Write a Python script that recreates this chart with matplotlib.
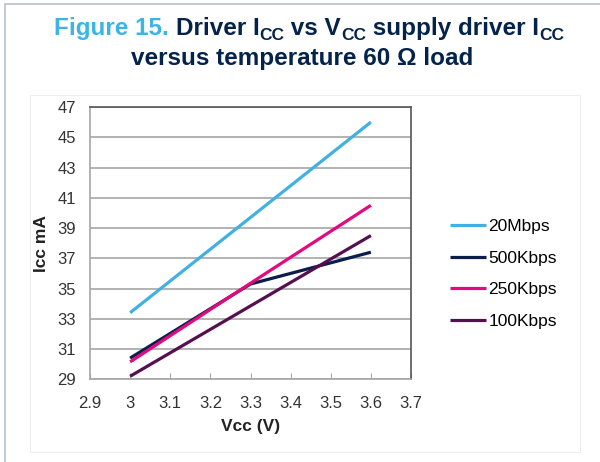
import matplotlib
matplotlib.use("Agg")
import matplotlib.pyplot as plt
from matplotlib.patches import Rectangle

plt.rcParams['font.family'] = ['Liberation Sans', 'DejaVu Sans']

# Data
vcc = [3.0, 3.3, 3.6]
icc_20mbps = [33.4, 39.7, 46.0]
icc_500kbps = [30.4, 35.3, 37.4]
icc_250kbps = [30.15, 35.35, 40.5]
icc_100kbps = [29.2, 33.85, 38.5]

series_names = ['20Mbps', '500Kbps', '250Kbps', '100Kbps']
series_vals = [icc_20mbps, icc_500kbps, icc_250kbps, icc_100kbps]
series_colors = ['#41B1E3', '#0B1D4D', '#E5097F', '#56104F']

x_ticks = [2.9, 3.0, 3.1, 3.2, 3.3, 3.4, 3.5, 3.6, 3.7]
x_tick_labels = ['2.9', '3', '3.1', '3.2', '3.3', '3.4', '3.5', '3.6', '3.7']
y_ticks = list(range(29, 48, 2))

W, H = 600, 462
fig = plt.figure(figsize=(W / 100, H / 100), dpi=100)

# outer frame and inner chart box
fig.patches.append(Rectangle((5 / W, -0.1), 1.2, 1 - 4 / H + 0.1, transform=fig.transFigure,
                             fill=False, edgecolor='#B9C2CB', linewidth=1.2))
fig.patches.append(Rectangle((30 / W, 1 - 452 / H), 550 / W, 357 / H, transform=fig.transFigure,
                             fill=False, edgecolor='#EDEDED', linewidth=0.8))

ax = fig.add_axes([90 / W, 1 - 379.3 / H, 321 / W, 272.3 / H])
for name, vals, col in zip(series_names, series_vals, series_colors):
    ax.plot(vcc, vals, color=col, linewidth=2.3, label=name, solid_capstyle='butt')

ax.set_xlim(2.9, 3.7)
ax.set_ylim(29, 47)
ax.set_xticks(x_ticks)
ax.set_xticklabels(x_tick_labels)
ax.set_yticks(y_ticks)
ax.grid(axis='y', color='#A6A6A6', linewidth=1.2)
ax.set_axisbelow(True)
ax.tick_params(axis='y', length=0, pad=10, labelsize=12, labelcolor='#333333')
ax.tick_params(axis='x', direction='in', length=4, color='#A6A6A6', pad=12,
               labelsize=12, labelcolor='#333333')
for s in ['left', 'bottom']:
    ax.spines[s].set_color('#A6A6A6')
    ax.spines[s].set_linewidth(1.2)
for s in ['top', 'right']:
    ax.spines[s].set_color('#555555')
    ax.spines[s].set_linewidth(1.2)

ax.set_xlabel('Vcc (V)', fontsize=12.5, fontweight='bold', color='#222222', labelpad=6)
ax.set_ylabel('Icc mA', fontsize=12.5, fontweight='bold', color='#222222', labelpad=6)

fig.legend(loc='center left', bbox_to_anchor=(450 / W, 1 - 274 / H), frameon=False,
           fontsize=12.5, handlelength=2.1, handletextpad=0.1, labelspacing=0.94,
           borderpad=0, borderaxespad=0)

# title built from pieces so the subscripts and colours can differ
blue = '#3CB4E6'
navy = '#03234B'
big = 17.5
small = 12.5
line1 = [('Figure 15. ', blue, big, 0), ('Driver I', navy, big, 0), ('CC', navy, small, -5),
         (' vs V', navy, big, 0), ('CC', navy, small, -5), (' supply driver I', navy, big, 0),
         ('CC', navy, small, -5)]
line2 = [('versus temperature 60 \u03a9 load', navy, big, 0)]

renderer = fig.canvas.get_renderer()


def draw_line(pieces, baseline_px, center_px):
    texts = []
    widths = []
    for txt, col, size, dy in pieces:
        t = fig.text(0, 1 - (baseline_px - dy) / H, txt, color=col, fontsize=size,
                     fontweight='bold', ha='left', va='baseline')
        texts.append(t)
        widths.append(t.get_window_extent(renderer).width)
    x = center_px - sum(widths) / 2
    for t, w in zip(texts, widths):
        t.set_x(x / W)
        x += w


draw_line(line1, 35, 309)
draw_line(line2, 65, 302)

fig.savefig('out.png', dpi=100)
